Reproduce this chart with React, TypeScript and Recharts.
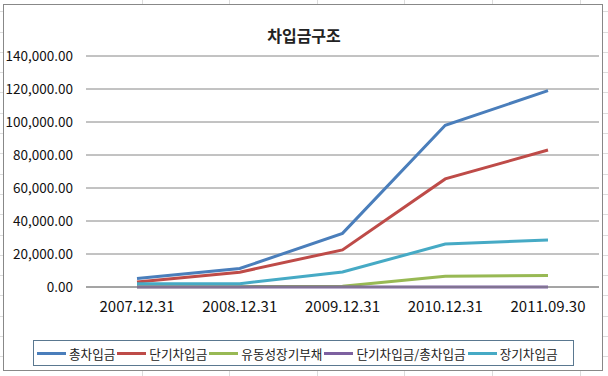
import React from "react";
import { LineChart, Line, XAxis, YAxis, CartesianGrid } from "recharts";

const categories = ["2007.12.31", "2008.12.31", "2009.12.31", "2010.12.31", "2011.09.30"];
const totalBorrowings = [5200, 11200, 32500, 98000, 119000];
const shortTermBorrowings = [3000, 9000, 22500, 65500, 83000];
const currentLongTermDebt = [200, 200, 500, 6500, 7000];
const shortToTotalRatio = [0.58, 0.8, 0.69, 0.67, 0.7];
const longTermBorrowings = [2000, 2000, 9100, 26000, 28500];
const yTicks = [0, 20000, 40000, 60000, 80000, 100000, 120000, 140000];

const seriesNames = ["총차입금", "단기차입금", "유동성장기부채", "단기차입금/총차입금", "장기차입금"];
const seriesColors = ["#4A7EBB", "#BE4B48", "#98B954", "#7D60A0", "#46AAC5"];
const seriesValues = [totalBorrowings, shortTermBorrowings, currentLongTermDebt, shortToTotalRatio, longTermBorrowings];

const data = categories.map((c, i) => {
  const row: Record<string, string | number> = { category: c };
  seriesNames.forEach((n, k) => {
    row[n] = seriesValues[k][i];
  });
  return row;
});

const fmt = (v: number) =>
  v.toLocaleString("en-US", { minimumFractionDigits: 2, maximumFractionDigits: 2 });

const FONT = "'Malgun Gothic', 'Noto Sans CJK KR', 'Noto Sans', sans-serif";

const LegendBox = () => (
  <div
    style={{
      position: "absolute",
      left: 33,
      top: 340,
      border: "1px solid #5a7890",
      height: 24,
      width: 536,
      display: "flex",
      alignItems: "center",
      paddingLeft: 3,
      boxSizing: "content-box",
      fontFamily: FONT,
      fontSize: 12.6,
      color: "#222",
      background: "#fff",
      overflow: "hidden",
    }}
  >
    {seriesNames.map((n, i) => (
      <div key={n} style={{ display: "flex", alignItems: "center", marginRight: 2 }}>
        <div style={{ width: 29, height: 3, background: seriesColors[i], marginRight: 3 }} />
        <span style={{ whiteSpace: "nowrap" }}>{n}</span>
      </div>
    ))}
  </div>
);

export default function App() {
  return (
    <div
      style={{
        position: "absolute",
        left: 0,
        top: 0,
        width: 608,
        height: 376,
        background: "#fff",
        backgroundImage:
          "repeating-linear-gradient(to right, transparent 0px, transparent 86.6px, #dcdcdc 86.6px, #dcdcdc 87.6px), repeating-linear-gradient(to bottom, transparent 0px, transparent 19.3px, #dcdcdc 19.3px, #dcdcdc 20.3px)",
        backgroundPosition: "55px 0px, 0px -8px",
        overflow: "hidden",
      }}
    >
      <div
        style={{
          position: "absolute",
          left: 3,
          top: 4,
          width: 598,
          height: 365,
          border: "1px solid #888",
          background: "#fff",
        }}
      />
      <div
        style={{
          position: "absolute",
          left: 0,
          top: 23,
          width: 608,
          textAlign: "center",
          fontFamily: FONT,
          fontSize: 16,
          fontWeight: 700,
          color: "#222",
        }}
      >
        차입금구조
      </div>
      <div style={{ position: "absolute", left: 0, top: 0 }}>
        <LineChart
          width={608}
          height={376}
          data={data}
          margin={{ top: 56, right: 9, bottom: 59, left: 6 }}
        >
          <CartesianGrid vertical={false} stroke="#868686" strokeWidth={1} />
          <XAxis
            dataKey="category"
            axisLine={{ stroke: "#868686" }}
            tickLine={false}
            tickSize={0}
            tickMargin={14}
            height={30}
            padding={{ left: 51, right: 51 }}
            tick={{ fill: "#111", fontSize: 15, fontFamily: FONT }}
            interval={0}
          />
          <YAxis
            domain={[0, 140000]}
            ticks={yTicks}
            width={80}
            axisLine={false}
            tickLine={false}
            tickSize={0}
            tickMargin={13}
            tickFormatter={fmt}
            tick={{ fill: "#111", fontSize: 13.5, fontFamily: FONT }}
            interval={0}
          />
          {seriesNames.map((n, i) => (
            <Line
              key={n}
              type="linear"
              dataKey={n}
              stroke={seriesColors[i]}
              strokeWidth={3}
              dot={false}
              activeDot={false}
              isAnimationActive={false}
            />
          ))}
        </LineChart>
      </div>
      <LegendBox />
    </div>
  );
}
